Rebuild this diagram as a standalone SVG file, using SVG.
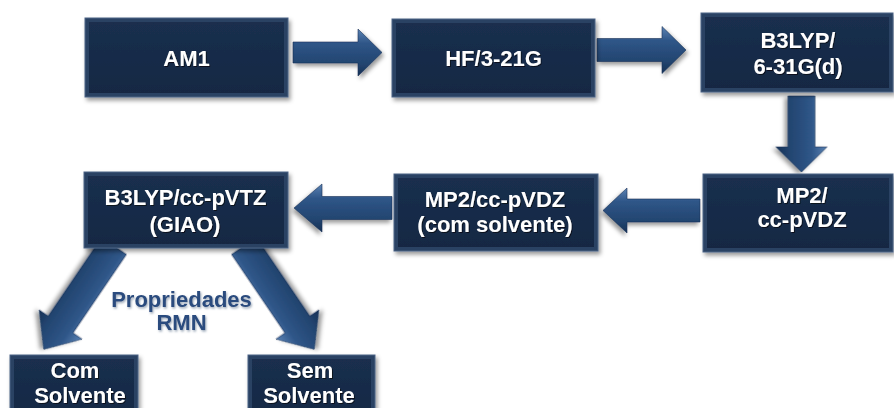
<svg xmlns="http://www.w3.org/2000/svg" width="894" height="408" viewBox="0 0 894 408">
<defs>
<linearGradient id="frame" x1="0" y1="0" x2="0" y2="1">
<stop offset="0" stop-color="#4d6588"/>
<stop offset="0.15" stop-color="#2a3f5e"/>
<stop offset="0.85" stop-color="#22375455"/>
<stop offset="1" stop-color="#3b5171"/>
</linearGradient>
<linearGradient id="face" x1="0" y1="0" x2="0" y2="1">
<stop offset="0" stop-color="#1a2f4e"/>
<stop offset="1" stop-color="#152843"/>
</linearGradient>
<linearGradient id="arr" x1="0" y1="0" x2="0" y2="1">
<stop offset="0" stop-color="#5b82b3"/>
<stop offset="0.3" stop-color="#2f5688"/>
<stop offset="0.75" stop-color="#22446f"/>
<stop offset="1" stop-color="#163055"/>
</linearGradient>
<filter id="sh" x="-10%" y="-10%" width="125%" height="130%">
<feDropShadow dx="2" dy="3" stdDeviation="2" flood-color="#000" flood-opacity="0.4"/>
</filter>
<filter id="tsh" x="-10%" y="-20%" width="120%" height="150%">
<feDropShadow dx="1" dy="1" stdDeviation="0.7" flood-color="#000" flood-opacity="0.6"/>
</filter>
<filter id="lsh" x="-10%" y="-20%" width="120%" height="150%">
<feDropShadow dx="1" dy="1.5" stdDeviation="1" flood-color="#6d7f96" flood-opacity="0.7"/>
</filter>
</defs>
<style>
.frame{fill:#2c4263;stroke:#4a6285;stroke-width:1}
.face{fill:url(#face)}
.box{filter:url(#sh)}
.t{font-family:"Liberation Sans",Arial,sans-serif;font-weight:bold;font-size:22px;fill:#ffffff;text-anchor:middle;filter:url(#tsh)}
.lbl{font-family:"Liberation Sans",Arial,sans-serif;font-weight:bold;font-size:22px;fill:#2a4b7e;text-anchor:middle;filter:url(#lsh)}
.a{fill:url(#arr);stroke:#1a3358;stroke-width:0.6;filter:url(#sh)}
</style>
<rect width="894" height="408" fill="#ffffff"/>
<g id="connectors">
<polygon class="a" transform="translate(293,52.5)" points="0,-10.5 65,-10.5 65,-23.5 89,0 65,23.5 65,10.5 0,10.5"/>
<polygon class="a" transform="translate(597,50)" points="0,-11.5 65,-11.5 65,-23.5 89,0 65,23.5 65,11.5 0,11.5"/>
<polygon class="a" transform="translate(801.5,96) rotate(90)" points="0,-13.5 51,-13.5 51,-25.5 76,0 51,25.5 51,13.5 0,13.5"/>
<polygon class="a" transform="translate(700,210.5) scale(-1,1)" points="0,-11.5 73,-11.5 73,-22.5 97,0 73,22.5 73,11.5 0,11.5"/>
<polygon class="a" transform="translate(392,208) scale(-1,1)" points="0,-11.5 70,-11.5 70,-24 98,0 70,24 70,11.5 0,11.5"/>
<polygon class="a" transform="translate(114,246) rotate(124.2)" points="0,-15 95,-15 95,-26 125,0 95,26 95,15 0,15"/>
<polygon class="a" transform="translate(244,246) rotate(55.8) scale(1,-1)" points="0,-15 95,-15 95,-26 125,0 95,26 95,15 0,15"/>
</g>
<g id="am1" class="box">
<rect class="frame" x="85" y="18" width="203" height="79"/>
<rect class="face" x="89" y="22" width="195" height="71"/>
<text class="t" x="186.5" y="66">AM1</text>
</g>
<g id="hf" class="box">
<rect class="frame" x="392" y="19" width="203" height="78"/>
<rect class="face" x="396" y="23" width="195" height="70"/>
<text class="t" x="493.5" y="66">HF/3-21G</text>
</g>
<g id="b3lyp631" class="box">
<rect class="frame" x="701" y="13" width="192" height="79"/>
<rect class="face" x="705" y="17" width="184" height="71"/>
<text class="t" x="798" y="48">B3LYP/</text>
<text class="t" x="798" y="74">6-31G(d)</text>
</g>
<g id="mp2" class="box">
<rect class="frame" x="703" y="174" width="190" height="78"/>
<rect class="face" x="707" y="178" width="182" height="70"/>
<text class="t" x="802" y="203">MP2/</text>
<text class="t" x="802" y="227">cc-pVDZ</text>
</g>
<g id="mp2solv" class="box">
<rect class="frame" x="394" y="174" width="204" height="77"/>
<rect class="face" x="398" y="178" width="196" height="69"/>
<text class="t" x="495" y="207">MP2/cc-pVDZ</text>
<text class="t" x="495" y="232">(com solvente)</text>
</g>
<g id="b3lypgiao" class="box">
<rect class="frame" x="84" y="172" width="204" height="76"/>
<rect class="face" x="88" y="176" width="196" height="68"/>
<text class="t" x="185.5" y="205">B3LYP/cc-pVTZ</text>
<text class="t" x="185" y="232">(GIAO)</text>
</g>
<g id="com" class="box">
<rect class="frame" x="10" y="355" width="128" height="70"/>
<rect class="face" x="14" y="359" width="120" height="62"/>
<text class="t" x="75" y="378">Com</text>
<text class="t" x="80" y="403">Solvente</text>
</g>
<g id="sem" class="box">
<rect class="frame" x="248" y="355" width="127" height="70"/>
<rect class="face" x="252" y="359" width="119" height="62"/>
<text class="t" x="310" y="378">Sem</text>
<text class="t" x="309" y="403">Solvente</text>
</g>
<g id="label">
<text class="lbl" x="181.5" y="307">Propriedades</text>
<text class="lbl" x="181.5" y="330">RMN</text>
</g>
</svg>
